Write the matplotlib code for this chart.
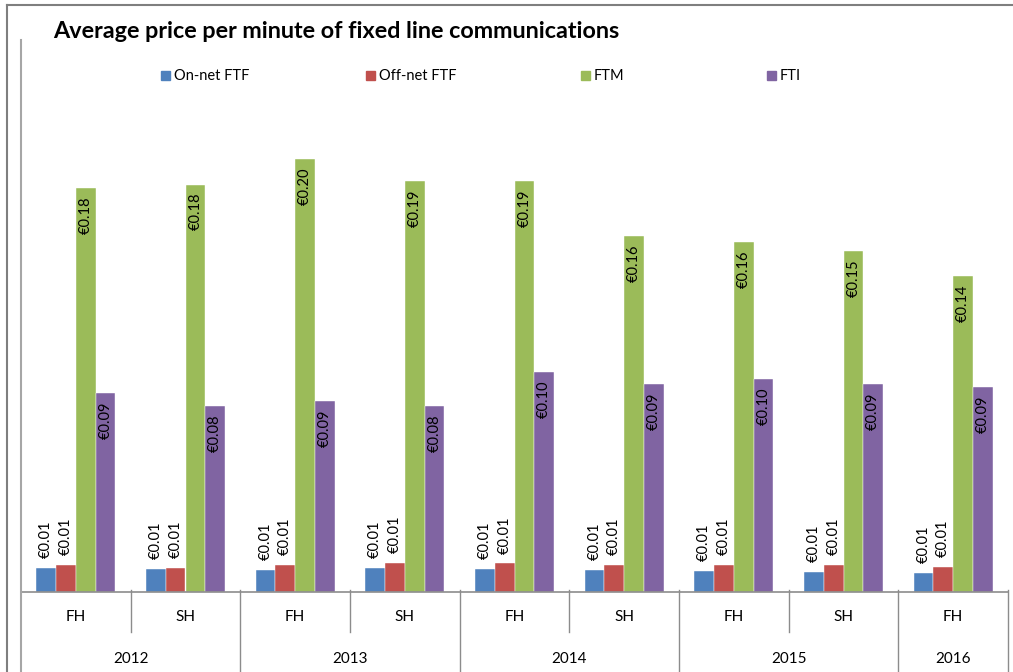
import numpy as np
import matplotlib.pyplot as plt
from matplotlib.lines import Line2D
from matplotlib.patches import Rectangle
from matplotlib.transforms import blended_transform_factory

plt.rcParams['font.family'] = ['Lato', 'DejaVu Sans']

periods = ["FH", "SH", "FH", "SH", "FH", "SH", "FH", "SH", "FH"]
years = ["2012", "2013", "2014", "2015", "2016"]
year_spans = [(0, 1), (2, 3), (4, 5), (6, 7), (8, 8)]

series_names = ["On-net FTF", "Off-net FTF", "FTM", "FTI"]
on_net_ftf = [0.0108, 0.0104, 0.0099, 0.0108, 0.0104, 0.0099, 0.0095, 0.0090, 0.0086]
off_net_ftf = [0.0124, 0.0108, 0.0124, 0.0131, 0.0130, 0.0124, 0.0124, 0.0124, 0.0113]
ftm = [0.1830, 0.1845, 0.1960, 0.1862, 0.1862, 0.1612, 0.1585, 0.1546, 0.1430]
fti = [0.0900, 0.0842, 0.0864, 0.0842, 0.0995, 0.0940, 0.0963, 0.0940, 0.0927]
colors = ["#4F81BD", "#C0504D", "#9BBB59", "#8064A2"]

W, H = 1013, 672
fig = plt.figure(figsize=(W / 100, H / 100), dpi=100)
ax = fig.add_axes([21 / W, 80 / H, 987 / W, 552 / H])
ax.set_xlim(-0.5, 8.5)
ax.set_ylim(0, 0.25)
for s in ax.spines.values():
    s.set_visible(False)
ax.set_xticks([])
ax.set_yticks([])

x = np.arange(len(periods))
bw = 0.18
offsets = [-1.5 * bw, -0.5 * bw, 0.5 * bw, 1.5 * bw]
for vals, off, c in zip([on_net_ftf, off_net_ftf, ftm, fti], offsets, colors):
    bars = ax.bar(x + off, vals, bw, color=c, edgecolor="white", linewidth=0.3)
    for b, v in zip(bars, vals):
        lab = f"€{v:.2f}"
        xc = b.get_x() + b.get_width() / 2
        if v > 0.03:
            ax.annotate(lab, (xc, v), xytext=(0, -6), textcoords="offset points",
                        rotation=90, ha="center", va="top", fontsize=10.5)
        else:
            ax.annotate(lab, (xc, v), xytext=(0, 7), textcoords="offset points",
                        rotation=90, ha="center", va="bottom", fontsize=10.5)

# multi-level category axis
tr = blended_transform_factory(ax.transData, ax.transAxes)
px = 1 / 552
gray = "#8c8c8c"
ax.add_line(Line2D([-0.5, 8.5], [0, 0], transform=tr, color=gray, lw=1.2, clip_on=False))
ax.add_line(Line2D([-0.5, -0.5], [1, -80 * px], transform=tr, color="#a6a6a6", lw=1.5, clip_on=False))
for i, p in enumerate(periods):
    ax.text(i, -25 * px, p, transform=tr, ha="center", va="center", fontsize=11)
    if i < len(periods) - 1:
        if i % 2 == 0:
            ax.add_line(Line2D([i + 0.5] * 2, [2 * px, -40 * px], transform=tr,
                               color=gray, lw=1, clip_on=False))
for yr, (a, b) in zip(years, year_spans):
    ax.text((a + b) / 2, -67 * px, yr, transform=tr, ha="center", va="center", fontsize=11)
    ax.add_line(Line2D([b + 0.5] * 2, [2 * px, -80 * px], transform=tr,
                       color=gray, lw=1, clip_on=False))

# chart border
fig.add_artist(Line2D([7 / W, 7 / W], [0, 1 - 5 / H], color="#7f7f7f", lw=1.5))
fig.add_artist(Line2D([7 / W, 1], [1 - 5 / H, 1 - 5 / H], color="#7f7f7f", lw=1.5))

fig.text(53 / W, 1 - 32 / H, "Average price per minute of fixed line communications",
         ha="left", va="center", fontsize=16.8, fontweight="bold")

# legend
leg_x = [161, 366, 581, 767]
for lx, name, c in zip(leg_x, series_names, colors):
    fig.add_artist(Rectangle((lx / W, 1 - 80 / H), 9 / W, 9 / H, color=c))
    fig.text((lx + 13) / W, 1 - 76 / H, name, ha="left", va="center", fontsize=10.5)

fig.savefig("out.png", dpi=100)
